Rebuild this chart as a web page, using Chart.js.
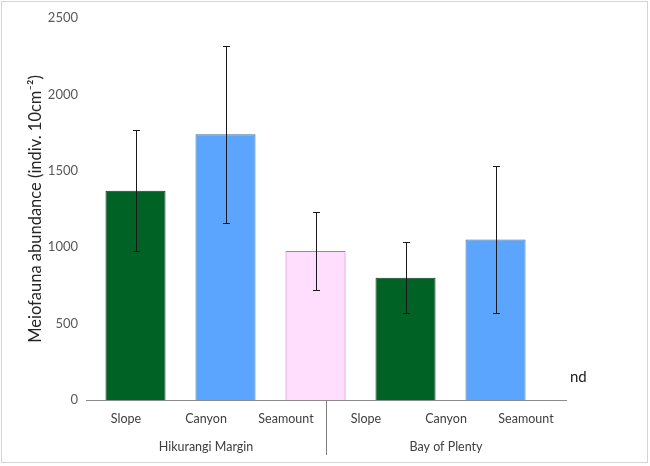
<!DOCTYPE html>
<html>
<head>
<meta charset="utf-8">
<script src="https://cdn.jsdelivr.net/npm/chart.js@4"></script>
<style>
body{margin:0;background:#fff;}
#wrap{width:650px;height:466px;position:relative;}
</style>
</head>
<body>
<div id="wrap"><canvas id="meioChart" width="650" height="466"></canvas></div>
<script>
/* ================= DATA ================= */
const sites=["Slope","Canyon","Seamount","Slope","Canyon","Seamount"];
const regions=["Hikurangi Margin","Bay of Plenty"];
const regionSize=[3,3];
const abundance=[1370,1740,975,800,1050,null];
const abundanceErr=[395,580,255,232,480,null];
const noDataLabel=["","","","","","nd"];
const yTicks=[0,500,1000,1500,2000,2500];

const fillColors=["#006325","#5ba5ff","#ffddfd","#006325","#5ba5ff","#ffffff"];
const edgeColors=["#0b3d1c","#41719c","#d65cd6","#0b3d1c","#41719c","#ffffff"];

const FONT="Lato, 'Open Sans', sans-serif";

/* bars sit on a wider spacing than the category labels in the original figure */
const barAxisMin=-0.55;
const barAxisMax=4.783;

/* ================= PLUGINS ================= */
const frame={
id:"frame",
beforeDraw(chart){
const ctx=chart.ctx;
ctx.save();
ctx.fillStyle="#fff";
ctx.fillRect(0,0,chart.width,chart.height);
ctx.strokeStyle="#d4d4d4";
ctx.lineWidth=1;
ctx.strokeRect(1.5,1.5,chart.width-4,chart.height-5);
ctx.restore();
}
};

const errorBars={
id:"errorBars",
afterDatasetsDraw(chart){
const ctx=chart.ctx;
const y=chart.scales.y;
const meta=chart.getDatasetMeta(0);
ctx.save();
ctx.strokeStyle="#1a1a1a";
ctx.lineWidth=1;
abundance.forEach((v,i)=>{
if(v===null)return;
const x=Math.round(meta.data[i].x)+0.5;
const top=Math.round(y.getPixelForValue(v+abundanceErr[i]))+0.5;
const bot=Math.round(y.getPixelForValue(v-abundanceErr[i]))+0.5;
ctx.beginPath();
ctx.moveTo(x,top);ctx.lineTo(x,bot);
ctx.moveTo(x-3.5,top);ctx.lineTo(x+3.5,top);
ctx.moveTo(x-3.5,bot);ctx.lineTo(x+3.5,bot);
ctx.stroke();
});
ctx.restore();
}
};

const groupLabels={
id:"groupLabels",
afterDraw(chart){
const ctx=chart.ctx;
const xs=chart.scales.x;
const xb=chart.scales.xb;
const area=chart.chartArea;
const step=(area.right-area.left)/sites.length;
ctx.save();
ctx.font="12.5px "+FONT;
ctx.fillStyle="#404040";
ctx.textAlign="center";
ctx.textBaseline="middle";
let start=0;
regions.forEach((r,k)=>{
const end=start+regionSize[k]-1;
const cx=(xs.getPixelForValue(start)+xs.getPixelForValue(end))/2;
ctx.fillText(r,cx,area.bottom+47);
if(k<regions.length-1){
const sx=Math.round(xs.getPixelForValue(end)+step/2)+0.5;
ctx.strokeStyle="#7f7f7f";
ctx.beginPath();
ctx.moveTo(sx,area.bottom);
ctx.lineTo(sx,area.bottom+55);
ctx.stroke();
}
start=end+1;
});
/* nd marker */
ctx.font="15px "+FONT;
ctx.fillStyle="#1a1a1a";
noDataLabel.forEach((t,i)=>{
if(!t)return;
ctx.fillText(t,xb.getPixelForValue(i-0.08),chart.scales.y.getPixelForValue(150));
});
ctx.restore();
}
};

/* ================= CHART ================= */
new Chart(
document.getElementById("meioChart"),
{
type:"bar",
data:{
labels:sites,
datasets:[{
data:abundance.map((v,i)=>({x:i,y:v})),
xAxisID:"xb",
backgroundColor:fillColors,
borderColor:edgeColors,
borderWidth:1,
categoryPercentage:1,
barPercentage:0.667
}]
},
options:{
responsive:false,
animation:false,
layout:{
padding:{top:18,right:84,left:0,bottom:0}
},
plugins:{
legend:{display:false},
tooltip:{enabled:false}
},
scales:{
xb:{
type:"linear",
display:false,
offset:false,
min:barAxisMin,
max:barAxisMax,
afterBuildTicks(scale){scale.ticks=sites.map((s,i)=>({value:i}));}
},
x:{
type:"category",
offset:true,
min:0,
max:sites.length-1,
grid:{display:false,drawTicks:false},
border:{display:true,color:"#8c8c8c",width:1},
ticks:{
color:"#404040",
padding:11,
font:{family:FONT,size:12.5}
},
afterFit(scale){scale.height=66;}
},
y:{
min:0,
max:2500,
grid:{display:false,drawTicks:false},
border:{display:false},
afterBuildTicks(scale){scale.ticks=yTicks.map(v=>({value:v}));},
ticks:{
color:"#595959",
padding:8,
font:{family:FONT,size:13},
callback:(v)=>String(v)
},
title:{
display:true,
text:"Meiofauna abundance (indiv. 10cm\u207B\u00B2)",
color:"#262626",
padding:{top:26,bottom:0},
font:{family:FONT,size:16.5}
},
afterFit(scale){scale.width=86;}
}
}
},
plugins:[frame,errorBars,groupLabels]
}
);
</script>
</body>
</html>
